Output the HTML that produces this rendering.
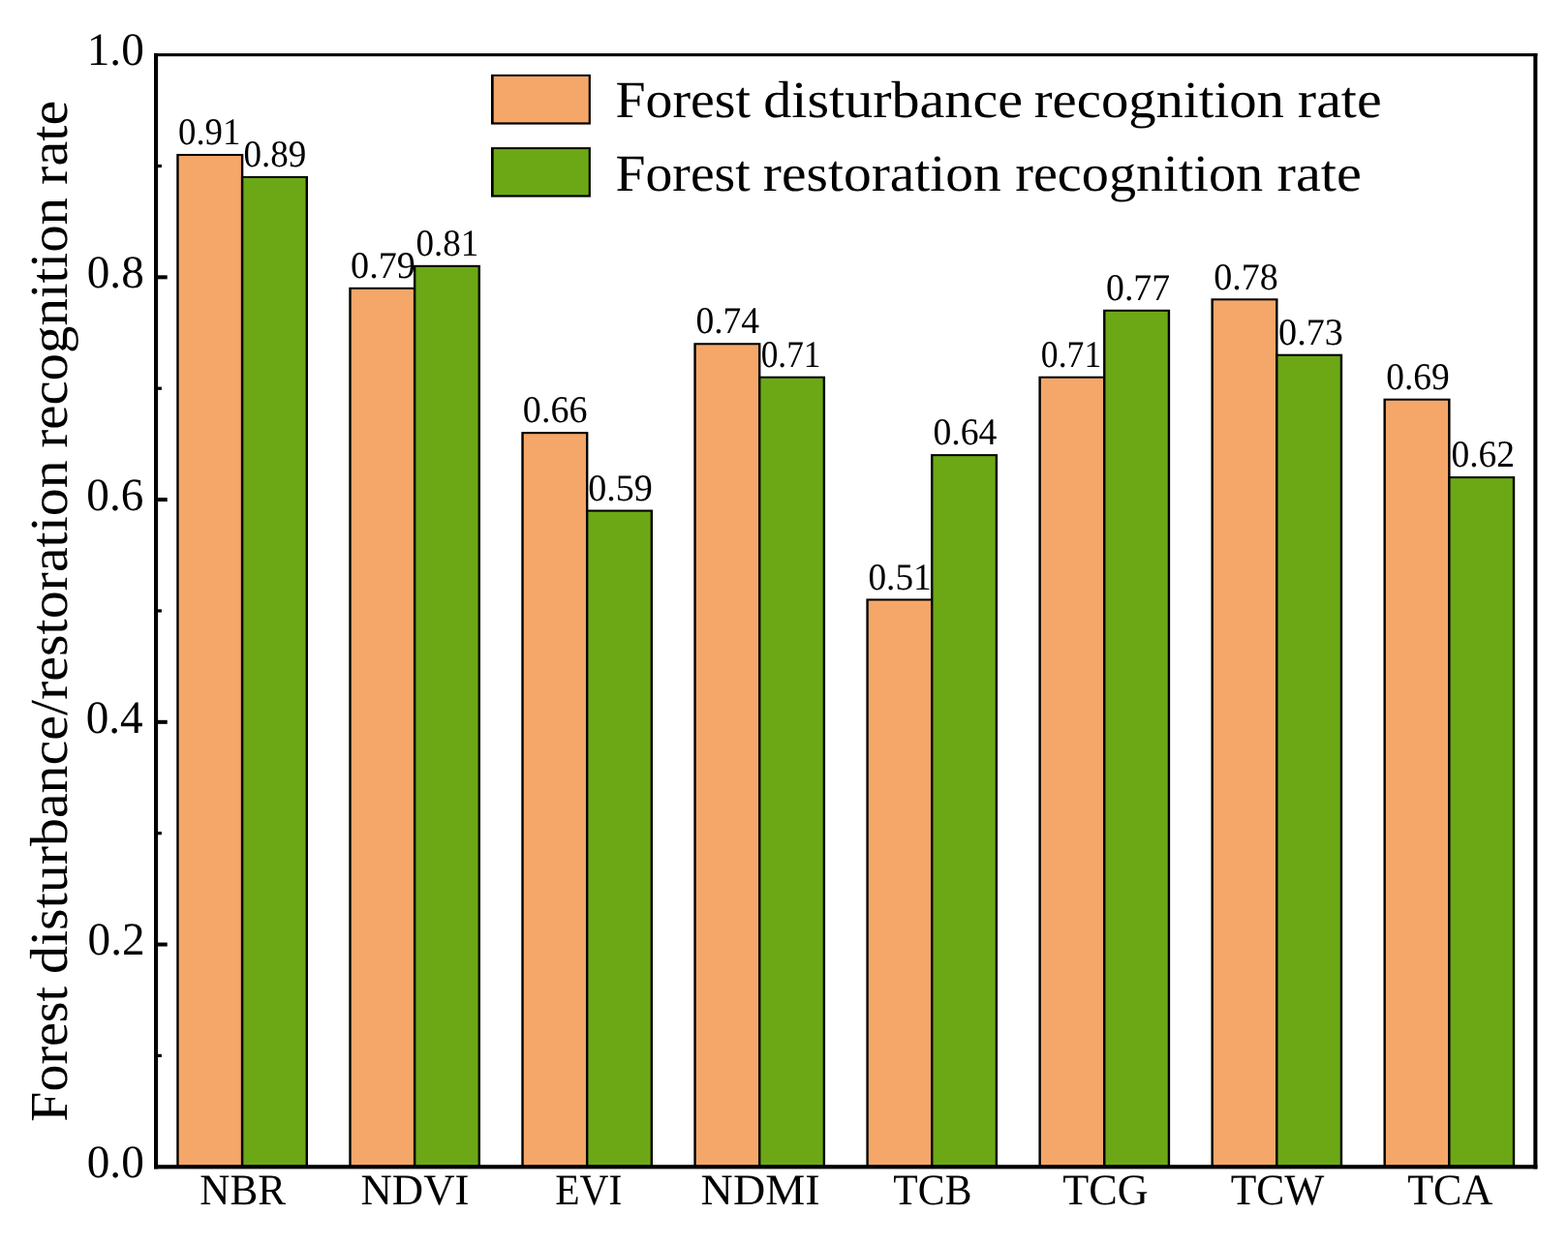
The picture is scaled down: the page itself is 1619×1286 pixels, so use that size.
<!DOCTYPE html><html><head><meta charset="utf-8"><title>Forest disturbance/restoration recognition rate</title>
<style>html,body{margin:0;padding:0;background:#fff;overflow:hidden}svg{display:block}text{font-family:"Liberation Serif", "DejaVu Serif", serif;fill:#000;text-rendering:geometricPrecision}</style></head><body>
<svg width="1619" height="1286" viewBox="0 0 1619 1286">
<rect x="0" y="0" width="1619" height="1286" fill="#fff"/>
<rect x="182.26" y="158.96" width="69.05" height="1046.34" fill="#000"/>
<rect x="184.66" y="161.01" width="64.25" height="1044.29" fill="#F4A769"/>
<rect x="248.92" y="181.93" width="69.05" height="1023.37" fill="#000"/>
<rect x="251.32" y="183.98" width="64.25" height="1021.32" fill="#6CA816"/>
<rect x="360.29" y="296.80" width="69.05" height="908.50" fill="#000"/>
<rect x="362.69" y="298.85" width="64.25" height="906.45" fill="#F4A769"/>
<rect x="426.95" y="273.83" width="69.05" height="931.47" fill="#000"/>
<rect x="429.35" y="275.88" width="64.25" height="929.42" fill="#6CA816"/>
<rect x="538.32" y="446.13" width="69.05" height="759.17" fill="#000"/>
<rect x="540.72" y="448.18" width="64.25" height="757.12" fill="#F4A769"/>
<rect x="604.98" y="526.54" width="69.05" height="678.76" fill="#000"/>
<rect x="607.38" y="528.59" width="64.25" height="676.71" fill="#6CA816"/>
<rect x="716.35" y="354.24" width="69.05" height="851.06" fill="#000"/>
<rect x="718.75" y="356.29" width="64.25" height="849.01" fill="#F4A769"/>
<rect x="783.01" y="388.70" width="69.05" height="816.60" fill="#000"/>
<rect x="785.41" y="390.75" width="64.25" height="814.55" fill="#6CA816"/>
<rect x="894.39" y="618.44" width="69.05" height="586.86" fill="#000"/>
<rect x="896.79" y="620.49" width="64.25" height="584.81" fill="#F4A769"/>
<rect x="961.04" y="469.11" width="69.05" height="736.19" fill="#000"/>
<rect x="963.44" y="471.16" width="64.25" height="734.14" fill="#6CA816"/>
<rect x="1072.42" y="388.70" width="69.05" height="816.60" fill="#000"/>
<rect x="1074.82" y="390.75" width="64.25" height="814.55" fill="#F4A769"/>
<rect x="1139.07" y="319.78" width="69.05" height="885.52" fill="#000"/>
<rect x="1141.47" y="321.83" width="64.25" height="883.47" fill="#6CA816"/>
<rect x="1250.45" y="308.29" width="69.05" height="897.01" fill="#000"/>
<rect x="1252.85" y="310.34" width="64.25" height="894.96" fill="#F4A769"/>
<rect x="1317.10" y="365.72" width="69.05" height="839.58" fill="#000"/>
<rect x="1319.50" y="367.77" width="64.25" height="837.53" fill="#6CA816"/>
<rect x="1428.48" y="411.67" width="69.05" height="793.63" fill="#000"/>
<rect x="1430.88" y="413.72" width="64.25" height="791.58" fill="#F4A769"/>
<rect x="1495.13" y="492.08" width="69.05" height="713.22" fill="#000"/>
<rect x="1497.53" y="494.13" width="64.25" height="711.17" fill="#6CA816"/>
<text x="0" y="0" font-size="39.118" transform="translate(184.02 149.20) scale(0.9406 1)">0.91</text>
<text x="0" y="0" font-size="39.118" transform="translate(251.41 172.17) scale(0.9477 1)">0.89</text>
<text x="0" y="0" font-size="39.118" transform="translate(362.07 287.04) scale(0.9752 1)">0.79</text>
<text x="0" y="0" font-size="39.118" transform="translate(429.41 264.07) scale(0.9468 1)">0.81</text>
<text x="0" y="0" font-size="39.118" transform="translate(539.87 436.37) scale(0.9724 1)">0.66</text>
<text x="0" y="0" font-size="39.118" transform="translate(607.17 516.78) scale(0.9736 1)">0.59</text>
<text x="0" y="0" font-size="39.118" transform="translate(718.39 344.48) scale(0.9608 1)">0.74</text>
<text x="0" y="0" font-size="39.118" transform="translate(785.68 378.94) scale(0.9019 1)">0.71</text>
<text x="0" y="0" font-size="39.118" transform="translate(896.40 608.68) scale(0.9545 1)">0.51</text>
<text x="0" y="0" font-size="39.118" transform="translate(963.39 459.35) scale(0.9638 1)">0.64</text>
<text x="0" y="0" font-size="39.118" transform="translate(1074.86 378.94) scale(0.9112 1)">0.71</text>
<text x="0" y="0" font-size="39.118" transform="translate(1141.98 310.01) scale(0.9663 1)">0.77</text>
<text x="0" y="0" font-size="39.118" transform="translate(1253.17 298.53) scale(0.9722 1)">0.78</text>
<text x="0" y="0" font-size="39.118" transform="translate(1320.07 355.96) scale(0.9752 1)">0.73</text>
<text x="0" y="0" font-size="39.118" transform="translate(1431.19 401.91) scale(0.9584 1)">0.69</text>
<text x="0" y="0" font-size="39.118" transform="translate(1498.50 482.32) scale(0.9578 1)">0.62</text>
<rect x="159.00" y="55.10" width="1428.40" height="3.10" fill="#000"/>
<rect x="159.00" y="1203.20" width="1428.40" height="4.20" fill="#000"/>
<rect x="159.00" y="55.10" width="4.10" height="1152.30" fill="#000"/>
<rect x="1583.30" y="55.10" width="4.10" height="1152.30" fill="#000"/>
<rect x="162.60" y="1088.83" width="4.30" height="3.20" fill="#000"/>
<rect x="162.60" y="973.56" width="10.10" height="4.00" fill="#000"/>
<rect x="162.60" y="859.09" width="4.30" height="3.20" fill="#000"/>
<rect x="162.60" y="743.82" width="10.10" height="4.00" fill="#000"/>
<rect x="162.60" y="629.35" width="4.30" height="3.20" fill="#000"/>
<rect x="162.60" y="514.08" width="10.10" height="4.00" fill="#000"/>
<rect x="162.60" y="399.61" width="4.30" height="3.20" fill="#000"/>
<rect x="162.60" y="284.34" width="10.10" height="4.00" fill="#000"/>
<rect x="162.60" y="169.87" width="4.30" height="3.20" fill="#000"/>
<text x="0" y="0" font-size="47.794" transform="translate(89.73 1216.08) scale(0.9883 1)">0.0</text>
<text x="0" y="0" font-size="47.794" transform="translate(90.56 986.34) scale(0.9883 1)">0.2</text>
<text x="0" y="0" font-size="47.794" transform="translate(88.67 756.60) scale(0.9883 1)">0.4</text>
<text x="0" y="0" font-size="47.794" transform="translate(89.37 526.86) scale(0.9883 1)">0.6</text>
<text x="0" y="0" font-size="47.794" transform="translate(89.73 297.12) scale(0.9883 1)">0.8</text>
<text x="0" y="0" font-size="47.794" transform="translate(89.73 67.38) scale(0.9883 1)">1.0</text>
<text x="0" y="0" font-size="45.038" transform="translate(206.31 1244.40) scale(0.9572 1)">NBR</text>
<text x="0" y="0" font-size="45.038" transform="translate(372.46 1244.40) scale(0.9948 1)">NDVI</text>
<text x="0" y="0" font-size="45.038" transform="translate(573.15 1244.40) scale(0.9214 1)">EVI</text>
<text x="0" y="0" font-size="45.038" transform="translate(723.62 1244.40) scale(1.0239 1)">NDMI</text>
<text x="0" y="0" font-size="45.038" transform="translate(922.37 1244.40) scale(0.9260 1)">TCB</text>
<text x="0" y="0" font-size="45.038" transform="translate(1097.33 1244.40) scale(0.9815 1)">TCG</text>
<text x="0" y="0" font-size="45.038" transform="translate(1270.64 1244.40) scale(0.9658 1)">TCW</text>
<text x="0" y="0" font-size="45.038" transform="translate(1453.13 1244.40) scale(0.9781 1)">TCA</text>
<rect x="507.00" y="76.90" width="102.90" height="51.70" fill="#000"/>
<rect x="509.70" y="78.90" width="98.00" height="47.50" fill="#F4A769"/>
<text x="0" y="0" font-size="53.740" transform="translate(635.43 121.20) scale(1.0387 1)">Forest</text>
<text x="0" y="0" font-size="53.740" transform="translate(788.27 121.20) scale(1.0808 1)">disturbance</text>
<text x="0" y="0" font-size="53.740" transform="translate(1067.67 121.20) scale(1.0551 1)">recognition</text>
<text x="0" y="0" font-size="53.740" transform="translate(1339.84 121.20) scale(1.0778 1)">rate</text>
<rect x="507.00" y="152.10" width="102.90" height="51.50" fill="#000"/>
<rect x="509.70" y="154.10" width="98.00" height="47.30" fill="#6CA816"/>
<text x="0" y="0" font-size="53.740" transform="translate(635.53 197.00) scale(1.0365 1)">Forest</text>
<text x="0" y="0" font-size="53.740" transform="translate(787.85 197.00) scale(1.0702 1)">restoration</text>
<text x="0" y="0" font-size="53.740" transform="translate(1048.18 197.00) scale(1.0461 1)">recognition</text>
<text x="0" y="0" font-size="53.740" transform="translate(1318.53 197.00) scale(1.0843 1)">rate</text>
<g transform="translate(68.80 1157.00) rotate(-90)">
<text x="0" y="0" font-size="54.962" transform="translate(-1.68 0.00) scale(1.0179 1)">Forest</text>
<text x="0" y="0" font-size="54.962" transform="translate(151.07 0.00) scale(1.0537 1)">disturbance/restoration</text>
<text x="0" y="0" font-size="54.962" transform="translate(694.26 0.00) scale(1.0337 1)">recognition</text>
<text x="0" y="0" font-size="54.962" transform="translate(966.04 0.00) scale(1.0589 1)">rate</text>
</g>
</svg></body></html>
